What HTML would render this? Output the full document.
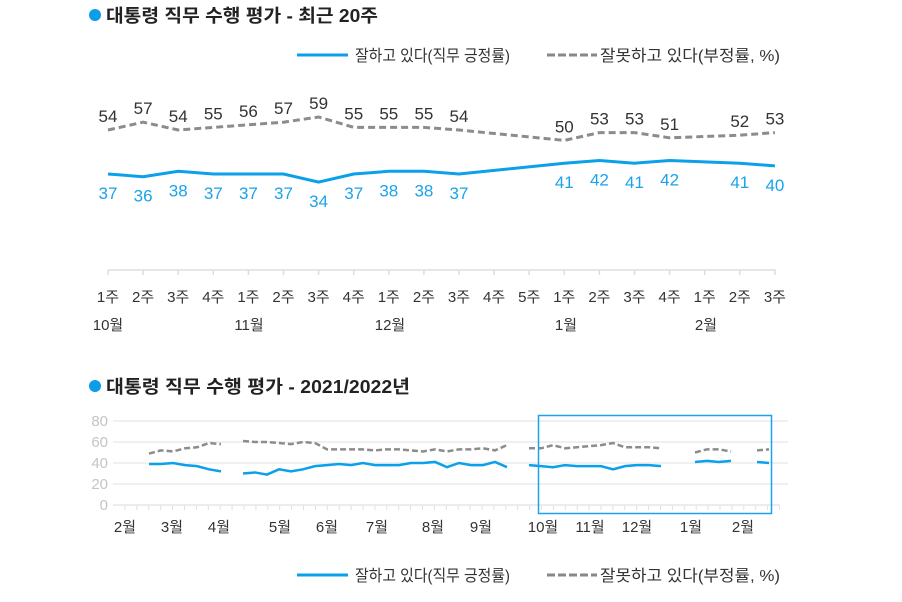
<!DOCTYPE html><html><head><meta charset="utf-8"><style>body{margin:0;background:#fff;width:902px;height:602px;overflow:hidden}svg{display:block;font-family:"Liberation Sans","Noto Sans CJK KR",sans-serif}</style></head><body>
<svg id="s" width="902" height="602" xmlns="http://www.w3.org/2000/svg">
<circle cx="95" cy="15" r="6" fill="#0a9ee8"/>
<text x="106" y="22" font-size="18" font-weight="bold" fill="#222" textLength="272" lengthAdjust="spacingAndGlyphs">대통령 직무 수행 평가 - 최근 20주</text>
<line x1="297" y1="55" x2="348" y2="55" stroke="#0aa0ea" stroke-width="3"/>
<text x="355" y="61" font-size="16" fill="#333" textLength="155" lengthAdjust="spacingAndGlyphs">잘하고 있다(직무 긍정률)</text>
<line x1="547" y1="55" x2="597" y2="55" stroke="#888" stroke-width="3" stroke-dasharray="8,3"/>
<text x="600" y="61" font-size="16" fill="#333" textLength="180" lengthAdjust="spacingAndGlyphs">잘못하고 있다(부정률, %)</text>
<g id="top"></g>
<circle cx="95" cy="386" r="6" fill="#0a9ee8"/>
<text x="106" y="393" font-size="18" font-weight="bold" fill="#222" textLength="304" lengthAdjust="spacingAndGlyphs">대통령 직무 수행 평가 - 2021/2022년</text>
<g id="bot"></g>
<rect x="538.5" y="415.5" width="233" height="98" fill="none" stroke="#1aa3ea" stroke-width="1.5"/>
<line x1="297" y1="575" x2="348" y2="575" stroke="#0aa0ea" stroke-width="3"/>
<text x="355" y="581" font-size="16" fill="#333" textLength="155" lengthAdjust="spacingAndGlyphs">잘하고 있다(직무 긍정률)</text>
<line x1="547" y1="575" x2="597" y2="575" stroke="#888" stroke-width="3" stroke-dasharray="8,3"/>
<text x="600" y="581" font-size="16" fill="#333" textLength="180" lengthAdjust="spacingAndGlyphs">잘못하고 있다(부정률, %)</text>
</svg>
<script>
var NS="http://www.w3.org/2000/svg";
function el(p,t,a,txt){var e=document.createElementNS(NS,t);for(var k in a)e.setAttribute(k,a[k]);if(txt!==undefined)e.textContent=txt;p.appendChild(e);return e;}
var T=document.getElementById("top");
var B=[37,36,38,37,37,37,34,37,38,38,37,null,null,41,42,41,42,null,41,40];
var G=[54,57,54,55,56,57,59,55,55,55,54,null,null,50,53,53,51,null,52,53];
var lab=["1주","2주","3주","4주","1주","2주","3주","4주","1주","2주","3주","4주","5주","1주","2주","3주","4주","1주","2주","3주"];
function X(i){return 108+35.1*i;}
el(T,"line",{x1:108,y1:270,x2:776,y2:270,stroke:"#ddd","stroke-width":1.5});
for(var i=0;i<20;i++){el(T,"line",{x1:X(i),y1:270,x2:X(i),y2:275,stroke:"#ddd","stroke-width":1.5});
el(T,"text",{x:X(i),y:302,"font-size":15,"text-anchor":"middle",fill:"#333"},lab[i]);}
[["10월",108],["11월",249],["12월",390],["1월",566],["2월",706]].forEach(function(m){el(T,"text",{x:m[1],y:330,"font-size":15,"text-anchor":"middle",fill:"#333"},m[0]);});
function pts(arr,f){var p=[];arr.forEach(function(v,i){if(v!==null)p.push(X(i).toFixed(1)+","+f(v).toFixed(1));});return p.join(" ");}
var gy=function(v){return 130-(v-54)*2.6;},by=function(v){return 174-(v-37)*2.7;};
el(T,"polyline",{points:pts(G,gy),fill:"none",stroke:"#8c8c8c","stroke-width":3,"stroke-dasharray":"7,4"});
el(T,"polyline",{points:pts(B,by),fill:"none",stroke:"#0aa0ea","stroke-width":3});
for(i=0;i<20;i++){if(G[i]!==null)el(T,"text",{x:X(i),y:gy(G[i])-8,"font-size":17,"text-anchor":"middle",fill:"#333"},G[i]);
if(B[i]!==null)el(T,"text",{x:X(i),y:by(B[i])+25,"font-size":17,"text-anchor":"middle",fill:"#1aa3ea"},B[i]);}
var Bo=document.getElementById("bot");
function Y(v){return 505-1.05*v;}
[0,20,40,60,80].forEach(function(v){if(v>0)el(Bo,"line",{x1:113,y1:Y(v),x2:788,y2:Y(v),stroke:"#e6e6e6","stroke-width":1.2});
el(Bo,"text",{x:108,y:Y(v)+5,"font-size":15,"text-anchor":"end",fill:"#c4c4c4"},v);});
el(Bo,"line",{x1:113,y1:505,x2:780,y2:505,stroke:"#e0e0e0","stroke-width":1.2});
for(var x=125;x<=780;x+=11.9)el(Bo,"line",{x1:x,y1:505,x2:x,y2:510,stroke:"#e0e0e0","stroke-width":1});
[["2월",125],["3월",172],["4월",219],["5월",280],["6월",327],["7월",377],["8월",433],["9월",481],["10월",543],["11월",590],["12월",637],["1월",691],["2월",743]].forEach(function(m){el(Bo,"text",{x:m[1],y:532,"font-size":15,"text-anchor":"middle",fill:"#333"},m[0]);});
var segs=[[149,[39,39,40,38,37,34,32],[49,52,51,54,55,59,58]],
[243,[30,31,29,34,32,34,37,38,39,38,40,38,38,38,40,40,41,36,40,38,38,41,36],[61,60,60,59,58,60,59,53,53,53,53,52,53,53,52,51,53,51,53,53,54,52,57]],
[529,[38,37,36,38,37,37,37,34,37,38,38,37],[54,54,57,54,55,56,57,59,55,55,55,54]],
[695,[41,42,41,42],[50,53,53,51]],[757,[41,40],[52,53]]];
segs.forEach(function(s){var pb=[],pg=[];s[1].forEach(function(v,i){pb.push((s[0]+12*i)+","+Y(v));pg.push((s[0]+12*i)+","+Y(s[2][i]));});
el(Bo,"polyline",{points:pg.join(" "),fill:"none",stroke:"#8c8c8c","stroke-width":2.5,"stroke-dasharray":"6,3"});
el(Bo,"polyline",{points:pb.join(" "),fill:"none",stroke:"#0aa0ea","stroke-width":2.5});});
</script>
</body></html>
